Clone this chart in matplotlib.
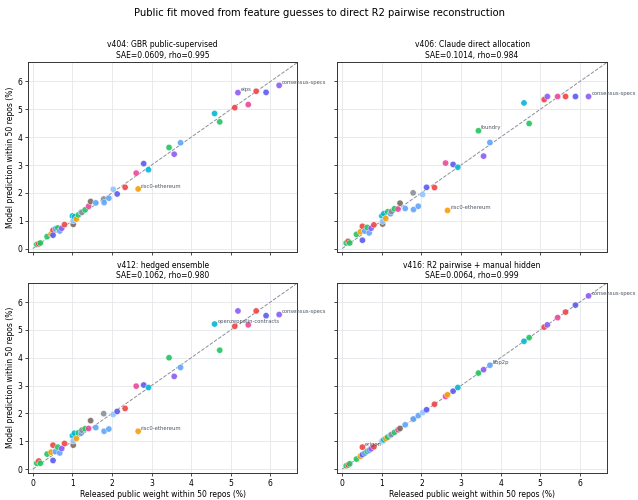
import matplotlib.pyplot as plt

# released public weight (%) for each repo, shared across all panels
released = [0.10, 0.15, 0.19, 0.36, 0.46, 0.51, 0.51, 0.57, 0.63, 0.68,
            0.73, 0.80, 1.00, 1.02, 1.02, 1.05, 1.10, 1.15, 1.22, 1.24,
            1.32, 1.41, 1.46, 1.59, 1.79, 1.80, 1.92, 2.03, 2.13, 2.33,
            2.61, 2.66, 2.80, 2.92, 3.44, 3.57, 3.73, 4.59, 4.72, 5.10,
            5.18, 5.44, 5.64, 5.89, 6.22]

colors = ["green", "red", "green", "green", "orange", "red", "indigo", "blue", "green", "blue",
          "purple", "red", "cyan", "brown", "lightblue", "cyan", "orange", "green", "blue", "gray",
          "green", "pink", "brown", "blue", "gray", "blue", "blue", "lightblue", "indigo", "red",
          "pink", "orange", "indigo", "cyan", "green", "purple", "blue", "cyan", "green", "red",
          "purple", "pink", "red", "indigo", "purple"]

names = {5: "erigon", 31: "risc0-ethereum", 34: "foundry", 36: "libp2p",
         37: "openzeppelin-contracts", 40: "eips", 44: "consensus-specs"}

pred_v404 = [0.15, 0.17, 0.20, 0.43, 0.52, 0.66, 0.48, 0.71, 0.74, 0.63,
             0.73, 0.86, 1.17, 0.87, 1.00, 1.14, 1.06, 1.21, 1.31, 1.30,
             1.39, 1.52, 1.69, 1.64, 1.78, 1.65, 1.81, 2.13, 1.96, 2.20,
             2.71, 2.14, 3.05, 2.83, 3.63, 3.39, 3.80, 4.85, 4.55, 5.06,
             5.60, 5.17, 5.65, 5.61, 5.86]

pred_v406 = [0.20, 0.26, 0.20, 0.51, 0.60, 0.80, 0.30, 0.63, 0.76, 0.56,
             0.73, 0.85, 1.17, 0.88, 0.98, 1.25, 1.08, 1.32, 1.25, 1.33,
             1.43, 1.42, 1.63, 1.44, 2.00, 1.40, 1.52, 1.94, 2.20, 2.19,
             3.07, 1.37, 3.02, 2.92, 4.23, 3.32, 3.81, 5.23, 4.49, 5.35,
             5.46, 5.46, 5.46, 5.46, 5.46]

pred_v412 = [0.21, 0.29, 0.21, 0.54, 0.61, 0.86, 0.31, 0.63, 0.79, 0.58,
             0.74, 0.92, 1.20, 0.86, 1.01, 1.29, 1.10, 1.30, 1.29, 1.40,
             1.45, 1.46, 1.74, 1.49, 1.99, 1.36, 1.44, 1.96, 2.07, 2.18,
             2.98, 1.36, 3.02, 2.93, 4.00, 3.33, 3.65, 5.21, 4.27, 5.13,
             5.68, 5.18, 5.68, 5.51, 5.55]

pred_v416 = [0.12, 0.15, 0.19, 0.36, 0.46, 0.79, 0.52, 0.57, 0.64, 0.68,
             0.73, 0.80, 1.00, 1.02, 1.02, 1.05, 1.10, 1.15, 1.22, 1.24,
             1.32, 1.41, 1.46, 1.59, 1.79, 1.80, 1.92, 2.03, 2.13, 2.33,
             2.61, 2.67, 2.80, 2.93, 3.45, 3.57, 3.73, 4.59, 4.72, 5.10,
             5.18, 5.44, 5.64, 5.89, 6.22]

panels = [
    ("v404: GBR public-supervised\nSAE=0.0609, rho=0.995", pred_v404, [40, 44, 31]),
    ("v406: Claude direct allocation\nSAE=0.1014, rho=0.984", pred_v406, [34, 44, 31]),
    ("v412: hedged ensemble\nSAE=0.1062, rho=0.980", pred_v412, [37, 44, 31]),
    ("v416: R2 pairwise + manual hidden\nSAE=0.0064, rho=0.999", pred_v416, [44, 36, 5]),
]

palette = {"red": "#ef4444", "green": "#22c55e", "blue": "#60a5fa", "purple": "#8b5cf6",
           "pink": "#ec4899", "cyan": "#06b6d4", "orange": "#f59e0b", "brown": "#7c6a60",
           "gray": "#8a8f98", "indigo": "#5b5bf0", "lightblue": "#93c5fd"}
point_colors = [palette[c] for c in colors]

LIM_LO, LIM_HI = -0.12, 6.68

fig, axes = plt.subplots(2, 2, figsize=(6.38, 5.0), dpi=100, sharex=True, sharey=True)
fig.subplots_adjust(left=0.044, right=0.951, top=0.876, bottom=0.054, wspace=0.149, hspace=0.158)

for ax, (title, pred, labelled) in zip(axes.flat, panels):
    ax.plot([0, LIM_HI], [0, LIM_HI], linestyle="--", color="#8a8f9c", linewidth=0.7, zorder=1)
    ax.scatter(released, pred, c=point_colors, s=20, alpha=0.9,
               edgecolors="white", linewidths=0.3, zorder=3)
    for i in labelled:
        ax.annotate(names[i], (released[i], pred[i]), xytext=(2, 1), textcoords="offset points",
                    fontsize=3.8, color="#4b5563", annotation_clip=False)
    ax.set_title(title, fontsize=5.5, pad=3)
    ax.grid(True, color="#e5e7eb", linewidth=0.6)
    ax.set_axisbelow(True)
    ax.tick_params(labelsize=5.5, length=2, width=0.5, pad=2)
    for s in ax.spines.values():
        s.set_linewidth(0.7)
        s.set_color("#333333")

axes[0, 0].set_xlim(LIM_LO, LIM_HI)
axes[0, 0].set_ylim(-0.14, 6.7)
for ax in axes[:, 0]:
    ax.set_ylabel("Model prediction within 50 repos (%)", fontsize=5.5, labelpad=2)
for ax in axes[1, :]:
    ax.set_xlabel("Released public weight within 50 repos (%)", fontsize=5.5, labelpad=2)

fig.suptitle("Public fit moved from feature guesses to direct R2 pairwise reconstruction",
             fontsize=7.2, y=0.985)

fig.savefig("out.png", dpi=100)
